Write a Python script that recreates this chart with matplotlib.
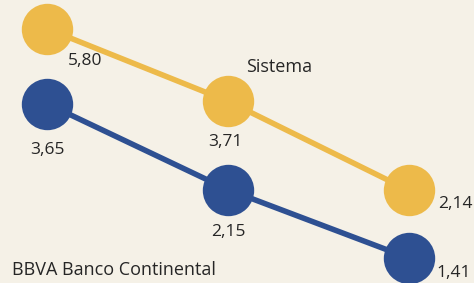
import numpy as np
import matplotlib.pyplot as plt

# ----------------------------------------------------------------------------
# Dados
# ----------------------------------------------------------------------------
periodos = [0, 1, 2]
sistema = [5.80, 3.71, 2.14]
bbva = [3.65, 2.15, 1.41]

nome_sistema = "Sistema"
nome_bbva = "BBVA Banco Continental"

COR_SISTEMA = "#edba4a"
COR_BBVA = "#2e5092"
COR_FUNDO = "#f5f1e7"
COR_TEXTO = "#262626"

# deslocamento (pixels) de cada rotulo em relacao ao ponto
OFF_SISTEMA = [(20, -32, 'left'), (-3, -41, 'center'), (29, -14, 'left')]
OFF_BBVA = [(0, -46, 'center'), (0, -42, 'center'), (27, -15, 'left')]


def fmt(v):
    return "{:.2f}".format(v).replace('.', ',')


plt.rcParams['font.family'] = ['Open Sans', 'DejaVu Sans']

fig = plt.figure(figsize=(4.74, 2.83), dpi=100)
fig.patch.set_facecolor(COR_FUNDO)
ax = fig.add_axes([0, 0, 1, 1])
ax.set_facecolor(COR_FUNDO)

ax.plot(periodos, sistema, color=COR_SISTEMA, lw=4, marker='o', ms=37,
        mew=0, solid_capstyle='butt')
ax.plot(periodos, bbva, color=COR_BBVA, lw=4, marker='o', ms=37,
        mew=0, solid_capstyle='butt')

for x, v, (dx, dy, ha) in zip(periodos, sistema, OFF_SISTEMA):
    ax.annotate(fmt(v), (x, v), xytext=(dx, dy), textcoords='offset pixels',
                ha=ha, va='center', fontsize=12.5, color=COR_TEXTO)
for x, v, (dx, dy, ha) in zip(periodos, bbva, OFF_BBVA):
    ax.annotate(fmt(v), (x, v), xytext=(dx, dy), textcoords='offset pixels',
                ha=ha, va='center', fontsize=12.5, color=COR_TEXTO)

# nomes das series
ax.annotate(nome_sistema, (periodos[1], sistema[1]), xytext=(18, 34),
            textcoords='offset pixels', ha='left', va='center',
            fontsize=13, color=COR_TEXTO)
fig.text(12 / 474, 1 - 270 / 283, nome_bbva, ha='left', va='center',
         fontsize=13, color=COR_TEXTO)

ax.set_yscale('log')
ax.set_ylim(1.209, 6.93)
ax.set_xlim(-0.2625, 2.36)
ax.axis('off')

fig.savefig("out.png", dpi=100, facecolor=COR_FUNDO)
